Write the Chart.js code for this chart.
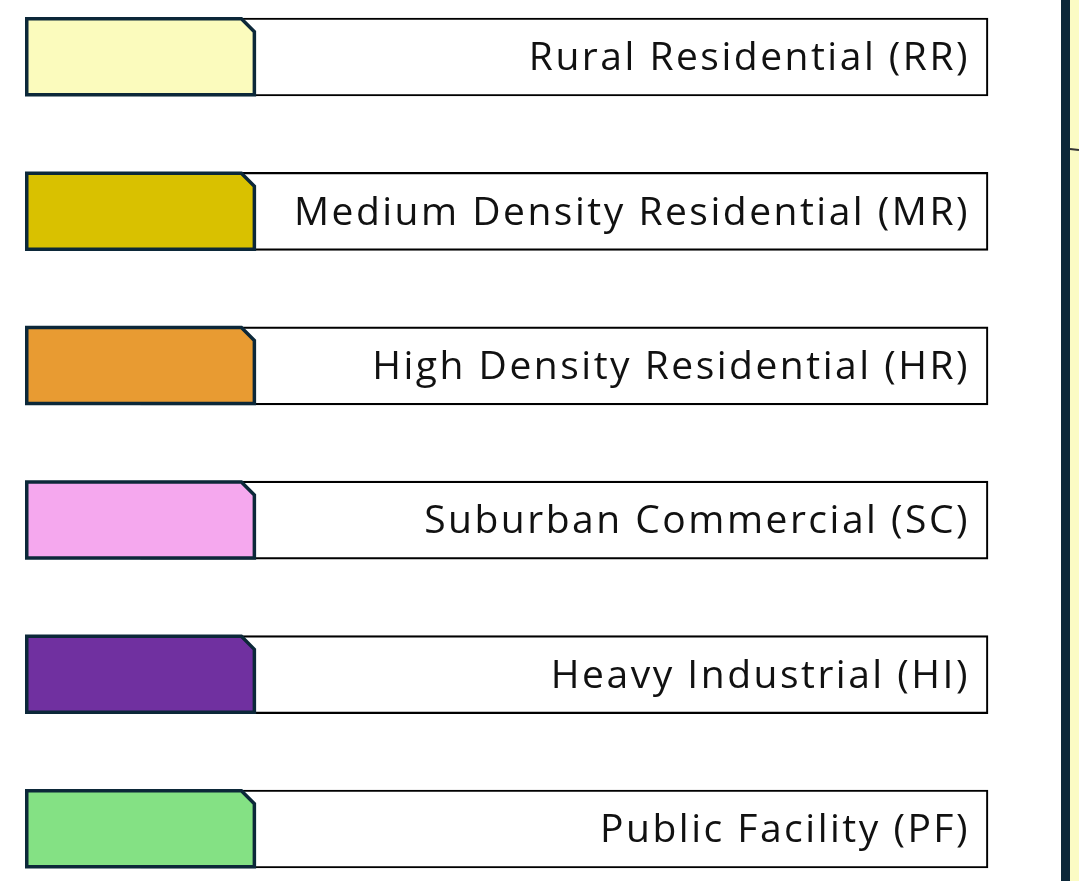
<!DOCTYPE html>
<html>
<head>
<meta charset="utf-8">
<title>Zoning legend</title>
<script src="https://cdn.jsdelivr.net/npm/chart.js@4/dist/chart.umd.min.js"></script>
<style>
  html, body { margin: 0; padding: 0; background: #fff; }
  #wrap { width: 1079px; height: 881px; }
</style>
</head>
<body>
<div id="wrap"><canvas id="legendChart"></canvas></div>
<script>
// データ
const zoneLabels = [
  "Rural Residential (RR)",
  "Medium Density Residential (MR)",
  "High Density Residential (HR)",
  "Suburban Commercial (SC)",
  "Heavy Industrial (HI)",
  "Public Facility (PF)"
];
const zoneCodes = ["RR", "MR", "HR", "SC", "HI", "PF"];
const zoneColors = ["#fbfbbd", "#d9c100", "#e89b32", "#f5a8ee", "#7030a0", "#84e184"];

// 見た目の設定
const SWATCH_END = 24;      // 色見本の右端（x軸 0..100）
const BOX_START = 12;       // 名前枠は色見本の下から始まる
const EDGE_COLOR = "#0c2839";
const SWATCH_LINE = 3.5;
const CHAMFER = 13;

// 色見本（右上を面取りした形）
const swatchPlugin = {
  id: "swatchShape",
  afterDatasetsDraw(chart) {
    const ctx = chart.ctx;
    const meta = chart.getDatasetMeta(0);
    meta.data.forEach((bar, i) => {
      const half = SWATCH_LINE / 2;
      const left = bar.base + half;
      const right = bar.x - half;
      const top = bar.y - bar.height / 2 - 0.5 + half;
      const bottom = bar.y + bar.height / 2 - half;
      ctx.save();
      ctx.beginPath();
      ctx.moveTo(left, top);
      ctx.lineTo(right - CHAMFER, top);
      ctx.lineTo(right, top + CHAMFER);
      ctx.lineTo(right, bottom);
      ctx.lineTo(left, bottom);
      ctx.closePath();
      ctx.fillStyle = zoneColors[i];
      ctx.fill();
      ctx.lineWidth = SWATCH_LINE;
      ctx.lineJoin = "miter";
      ctx.strokeStyle = EDGE_COLOR;
      ctx.stroke();
      ctx.restore();
    });
  }
};

// 右端に切れて見える地図の枠 + 文字間隔
const edgePlugin = {
  id: "mapEdge",
  beforeDraw(chart) {
    const ctx = chart.ctx;
    const w = chart.width, h = chart.height;
    ctx.save();
    ctx.fillStyle = "#fff";
    ctx.fillRect(0, 0, w, h);
    ctx.fillStyle = EDGE_COLOR;
    ctx.fillRect(w - 18, 0, 9, h);
    ctx.fillStyle = "#fbfbc4";
    ctx.fillRect(w - 9, 0, 9, h);
    ctx.strokeStyle = "#333";
    ctx.lineWidth = 2;
    ctx.beginPath();
    ctx.moveTo(w - 9, 149);
    ctx.lineTo(w, 150);
    ctx.stroke();
    ctx.restore();
    ctx.letterSpacing = "2.5px";
  },
  afterDraw(chart) {
    chart.ctx.letterSpacing = "0px";
  }
};

const ctx = document.getElementById("legendChart").getContext("2d");
const chart = new Chart(ctx, {
  type: "bar",
  data: {
    labels: zoneLabels,
    datasets: [{
      label: "swatch",
      data: zoneCodes.map(() => [0, SWATCH_END]),
      backgroundColor: "rgba(0,0,0,0)",
      borderWidth: 0,
      barThickness: 79,
      grouped: false,
      clip: false
    }, {
      label: "name",
      data: zoneCodes.map(() => [BOX_START, 100]),
      backgroundColor: "rgba(0,0,0,0)",
      borderColor: "#000",
      borderWidth: 1.5,
      borderSkipped: false,
      barThickness: 78,
      grouped: false,
      clip: false
    }]
  },
  options: {
    indexAxis: "y",
    responsive: true,
    maintainAspectRatio: false,
    animation: false,
    layout: {
      padding: { left: 25, right: 91, top: 57, bottom: 52 }
    },
    plugins: {
      legend: { display: false },
      tooltip: { enabled: false }
    },
    scales: {
      x: {
        type: "linear",
        display: false,
        min: 0,
        max: 100
      },
      y: {
        type: "category",
        position: "right",
        offset: false,
        grid: { display: false, drawTicks: false },
        border: { display: false },
        afterFit(scale) { scale.width = 0; },
        ticks: {
          mirror: true,
          padding: -18,
          labelOffset: 2,
          autoSkip: false,
          color: "#111",
          font: { family: "'Open Sans', 'Noto Sans', sans-serif", size: 39 }
        }
      }
    }
  },
  plugins: [edgePlugin, swatchPlugin]
});
</script>
</body>
</html>
